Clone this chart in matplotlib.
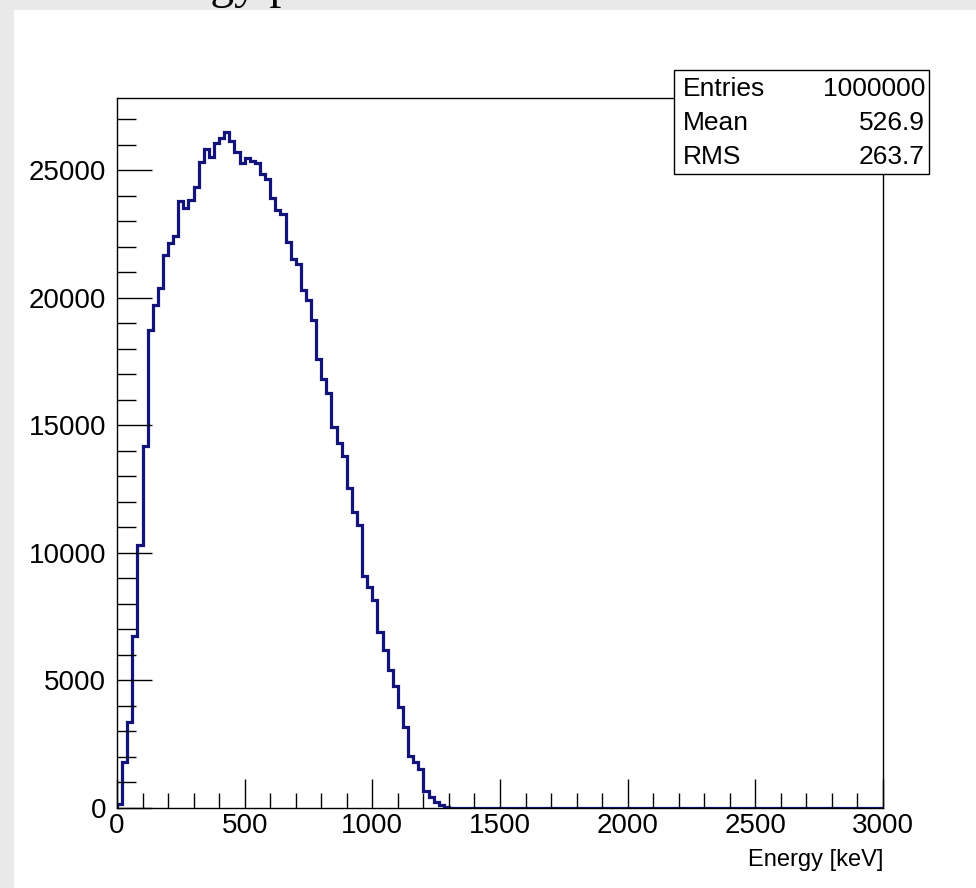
import numpy as np
import matplotlib
matplotlib.use("Agg")
import matplotlib.pyplot as plt
from matplotlib.patches import Rectangle
from matplotlib.ticker import MultipleLocator

# histogram contents, 150 bins of 20 keV from 0 to 3000 keV
counts = [150, 1800, 3380, 6740, 10300, 14170, 18750, 19700, 20380, 21690,
          22150, 22410, 23780, 23540, 23840, 24330, 25320, 25830, 25520, 26060,
          26250, 26510, 26150, 25700, 25270, 25490, 25360, 25300, 24850, 24640,
          23920, 23460, 23270, 22200, 21530, 21340, 20300, 19900, 19140, 17600,
          16830, 16270, 14950, 14320, 13780, 12520, 11580, 11100, 9070, 8650,
          8150, 6880, 6180, 5400, 4760, 3940, 3160, 2030, 1800, 1520,
          660, 430, 230, 100, 30] + [0] * 85
e_min, e_max, n_bins = 0, 3000, 150
x_ticks = [0, 500, 1000, 1500, 2000, 2500, 3000]
y_ticks = [0, 5000, 10000, 15000, 20000, 25000]
stats_names = ["Entries", "Mean", "RMS"]
stats_values = ["1000000", "526.9", "263.7"]

W, H = 976, 888
fig = plt.figure(figsize=(W / 100, H / 100), dpi=100, facecolor="#e9e9e9")

# white slide area and the cut-off title above it
fig.add_artist(Rectangle((14 / W, 0), 1, 1 - 10 / H, transform=fig.transFigure,
                         facecolor="white", edgecolor="none", zorder=0))
fig.text(122 / W, 1 + 2 / H, "Energy plot", family="Liberation Serif",
         fontsize=34, va="baseline", ha="left", color="black")

ax = fig.add_axes([117 / W, 1 - 807.7 / H, (883 - 117) / W, (807.7 - 98) / H])
ax.set_facecolor("white")

edges = np.linspace(e_min, e_max, n_bins + 1)
ax.stairs(counts, edges, baseline=0, color="#13137c", linewidth=2.3)

ax.set_xlim(e_min, e_max)
ax.set_ylim(0, 1.05 * max(counts))
ax.set_xticks(x_ticks)
ax.set_yticks(y_ticks)
ax.xaxis.set_minor_locator(MultipleLocator(100))
ax.yaxis.set_minor_locator(MultipleLocator(1000))
ax.tick_params(which="both", direction="in", top=False, right=False,
               color="black", width=1, labelsize=20)
ax.tick_params(axis="y", which="major", length=25, pad=8)
ax.tick_params(axis="y", which="minor", length=14)
ax.tick_params(axis="x", which="major", length=21, pad=4)
ax.tick_params(axis="x", which="minor", length=11)
for lab in ax.get_xticklabels() + ax.get_yticklabels():
    lab.set_family("Liberation Sans")
for s in ax.spines.values():
    s.set_linewidth(1)

ax.set_xlabel("Energy [keV]", family="Liberation Sans", fontsize=17)
ax.xaxis.set_label_coords(1.0, -0.058)
ax.xaxis.label.set_horizontalalignment("right")

# stats box
bx0, bx1, by0, by1 = 674, 929, 70, 174
fig.add_artist(Rectangle((bx0 / W, 1 - by1 / H), (bx1 - bx0) / W, (by1 - by0) / H,
                         transform=fig.transFigure, facecolor="white",
                         edgecolor="black", linewidth=1, zorder=5))
row_y = [89, 123, 157]
for name, val, yy in zip(stats_names, stats_values, row_y):
    fig.text(683 / W, 1 - yy / H, name, family="Liberation Sans", fontsize=19,
             va="center", ha="left", zorder=6)
    fig.text(925 / W, 1 - yy / H, val, family="Liberation Sans", fontsize=19,
             va="center", ha="right", zorder=6)

fig.savefig("out.png", dpi=100)
